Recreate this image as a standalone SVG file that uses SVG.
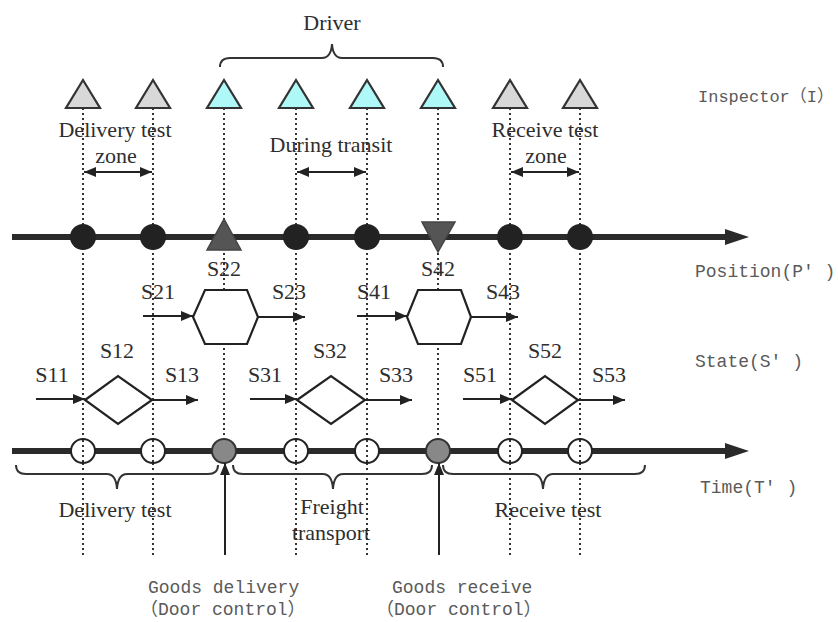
<svg xmlns="http://www.w3.org/2000/svg" width="838" height="622" viewBox="0 0 838 622">
<style>
.serif{font-family:"Liberation Serif","Times New Roman",serif;font-size:22px;fill:#2e2e2e;text-anchor:middle}
.mono{font-family:"Liberation Mono","Noto Sans CJK SC",monospace;font-size:18px;fill:#5a5a5a}
.dot{stroke:#333;stroke-width:2;stroke-dasharray:2 3;fill:none}
.insp{stroke:#333;stroke-width:2.2;stroke-linejoin:miter}
.grey{fill:#d8d8d8}
.cyan{fill:#aef8f8}
.ln{stroke:#222;stroke-width:2;fill:none}
.axis{stroke:#2a2a2a;stroke-width:6}
.brace{stroke:#333;stroke-width:2;fill:none}
.shape{fill:#fff;stroke:#222;stroke-width:2.2}
</style>
<defs>
<marker id="ah" viewBox="0 0 12 10" refX="12" refY="5" markerWidth="12" markerHeight="10" markerUnits="userSpaceOnUse" orient="auto">
<path d="M0,0 L12,5 L0,10 z" fill="#222"/>
</marker>
<marker id="ahs" viewBox="0 0 12 10" refX="12" refY="5" markerWidth="12" markerHeight="10" markerUnits="userSpaceOnUse" orient="auto-start-reverse">
<path d="M0,0 L12,5 L0,10 z" fill="#222"/>
</marker>
</defs>

<g id="guides">
<line class="dot" x1="83" y1="108" x2="83" y2="555"/>
<line class="dot" x1="153" y1="108" x2="153" y2="555"/>
<line class="dot" x1="224" y1="108" x2="224" y2="440"/>
<line class="dot" x1="296" y1="108" x2="296" y2="555"/>
<line class="dot" x1="367" y1="108" x2="367" y2="555"/>
<line class="dot" x1="438" y1="108" x2="438" y2="440"/>
<line class="dot" x1="510" y1="108" x2="510" y2="555"/>
<line class="dot" x1="580" y1="108" x2="580" y2="555"/>
</g>

<g id="inspectors">
<polygon class="insp grey" points="83,80 66,108 100,108"/>
<polygon class="insp grey" points="153,80 136,108 170,108"/>
<polygon class="insp cyan" points="224,80 207,108 241,108"/>
<polygon class="insp cyan" points="296,80 279,108 313,108"/>
<polygon class="insp cyan" points="367,80 350,108 384,108"/>
<polygon class="insp cyan" points="438,80 421,108 455,108"/>
<polygon class="insp grey" points="510,80 493,108 527,108"/>
<polygon class="insp grey" points="580,80 563,108 597,108"/>
</g>

<g id="driver">
<path class="brace" d="M220,67 Q220,58 230,58 H322 Q331,58 332,44 Q333,58 342,58 H433 Q443,58 443,67"/>
<text class="serif" x="332" y="30">Driver</text>
</g>

<g id="zones">
<text class="serif" x="115" y="137">Delivery test</text>
<text class="serif" x="116" y="163">zone</text>
<line class="ln" x1="84" y1="172" x2="152" y2="172" marker-start="url(#ahs)" marker-end="url(#ah)"/>
<text class="serif" x="331" y="152">During transit</text>
<line class="ln" x1="297" y1="172" x2="366" y2="172" marker-start="url(#ahs)" marker-end="url(#ah)"/>
<text class="serif" x="545" y="137">Receive test</text>
<text class="serif" x="546" y="163">zone</text>
<line class="ln" x1="511" y1="172" x2="579" y2="172" marker-start="url(#ahs)" marker-end="url(#ah)"/>
</g>

<g id="position-axis">
<line class="axis" x1="12" y1="237" x2="728" y2="237"/>
<polygon points="725,229 749,237 725,245" fill="#2a2a2a"/>
<circle cx="83" cy="237" r="13" fill="#222"/>
<circle cx="153" cy="237" r="13" fill="#222"/>
<polygon points="224,219 207,250 241,250" fill="#555" stroke="#444" stroke-width="1.5"/>
<circle cx="296" cy="237" r="13" fill="#222"/>
<circle cx="367" cy="237" r="13" fill="#222"/>
<polygon points="422,222 455,222 438,252" fill="#555" stroke="#444" stroke-width="1.5"/>
<circle cx="510" cy="237" r="13" fill="#222"/>
<circle cx="580" cy="237" r="13" fill="#222"/>
</g>

<g id="state2">
<text class="serif" x="224" y="276">S22</text>
<text class="serif" x="158" y="299">S21</text>
<text class="serif" x="289" y="299">S23</text>
<polygon class="shape" points="193,317 205,290 247,290 258,317 247,344 205,344"/>
<line class="ln" x1="143" y1="316" x2="193" y2="316" marker-end="url(#ah)"/>
<line class="ln" x1="258" y1="317" x2="305" y2="317" marker-end="url(#ah)"/>
</g>

<g id="state4">
<text class="serif" x="438" y="276">S42</text>
<text class="serif" x="374" y="299">S41</text>
<text class="serif" x="503" y="299">S43</text>
<polygon class="shape" points="407,317 418,290 461,290 471,317 461,344 418,344"/>
<line class="ln" x1="357" y1="316" x2="407" y2="316" marker-end="url(#ah)"/>
<line class="ln" x1="471" y1="317" x2="518" y2="317" marker-end="url(#ah)"/>
</g>

<g id="state1">
<text class="serif" x="52" y="382">S11</text>
<text class="serif" x="117" y="358">S12</text>
<text class="serif" x="182" y="382">S13</text>
<polygon class="shape" points="85,400 118,376 152,400 118,424"/>
<line class="ln" x1="36" y1="399" x2="85" y2="399" marker-end="url(#ah)"/>
<line class="ln" x1="152" y1="400" x2="198" y2="400" marker-end="url(#ah)"/>
</g>

<g id="state3">
<text class="serif" x="265" y="382">S31</text>
<text class="serif" x="330" y="358">S32</text>
<text class="serif" x="396" y="382">S33</text>
<polygon class="shape" points="297,400 331,376 365,400 331,424"/>
<line class="ln" x1="250" y1="399" x2="297" y2="399" marker-end="url(#ah)"/>
<line class="ln" x1="365" y1="400" x2="412" y2="400" marker-end="url(#ah)"/>
</g>

<g id="state5">
<text class="serif" x="480" y="382">S51</text>
<text class="serif" x="545" y="358">S52</text>
<text class="serif" x="609" y="382">S53</text>
<polygon class="shape" points="512,400 545,376 578,400 545,424"/>
<line class="ln" x1="463" y1="399" x2="512" y2="399" marker-end="url(#ah)"/>
<line class="ln" x1="578" y1="400" x2="625" y2="400" marker-end="url(#ah)"/>
</g>

<g id="time-axis">
<line class="axis" x1="12" y1="451" x2="728" y2="451"/>
<polygon points="725,443 749,451 725,459" fill="#2a2a2a"/>
<circle cx="83" cy="451" r="12" fill="#fff" stroke="#222" stroke-width="2"/>
<circle cx="153" cy="451" r="12" fill="#fff" stroke="#222" stroke-width="2"/>
<circle cx="224" cy="451" r="12" fill="#888" stroke="#333" stroke-width="2"/>
<circle cx="296" cy="451" r="12" fill="#fff" stroke="#222" stroke-width="2"/>
<circle cx="367" cy="451" r="12" fill="#fff" stroke="#222" stroke-width="2"/>
<circle cx="438" cy="451" r="12" fill="#888" stroke="#333" stroke-width="2"/>
<circle cx="510" cy="451" r="12" fill="#fff" stroke="#222" stroke-width="2"/>
<circle cx="580" cy="451" r="12" fill="#fff" stroke="#222" stroke-width="2"/>
<line class="dot" x1="83" y1="440" x2="83" y2="462"/>
<line class="dot" x1="153" y1="440" x2="153" y2="462"/>
<line class="dot" x1="296" y1="440" x2="296" y2="462"/>
<line class="dot" x1="367" y1="440" x2="367" y2="462"/>
<line class="dot" x1="510" y1="440" x2="510" y2="462"/>
<line class="dot" x1="580" y1="440" x2="580" y2="462"/>
</g>

<g id="phases">
<path class="brace" d="M16,465 Q16,474 26,474 H107 Q116,474 117,489 Q118,474 127,474 H208 Q218,474 218,465"/>
<text class="serif" x="115" y="517">Delivery test</text>
<path class="brace" d="M233,465 Q233,474 243,474 H323 Q332,474 333,489 Q334,474 343,474 H422 Q432,474 432,465"/>
<text class="serif" x="332" y="514">Freight</text>
<text class="serif" x="331" y="540">transport</text>
<path class="brace" d="M443,465 Q443,474 453,474 H533 Q542,474 543,489 Q544,474 553,474 H635 Q645,474 645,465"/>
<text class="serif" x="548" y="517">Receive test</text>
</g>

<g id="door-controls">
<line class="ln" x1="225" y1="555" x2="225" y2="463" marker-end="url(#ah)"/>
<text class="mono" x="148" y="593">Goods delivery</text>
<text class="mono" x="140" y="615">（Door control）</text>
<line class="ln" x1="439" y1="555" x2="439" y2="463" marker-end="url(#ah)"/>
<text class="mono" x="392" y="593">Goods receive</text>
<text class="mono" x="376" y="615">（Door control）</text>
</g>

<g id="labels">
<text class="mono" x="698" y="102" style="font-size:17px">Inspector（I）</text>
<text class="mono" x="695" y="277">Position(P′ )</text>
<text class="mono" x="695" y="367">State(S′ )</text>
<text class="mono" x="700" y="493">Time(T′ )</text>
</g>
</svg>
